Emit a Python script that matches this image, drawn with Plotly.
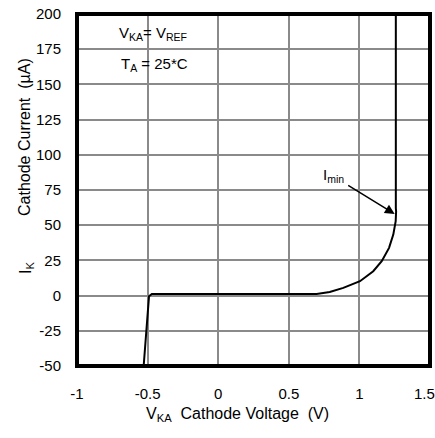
import plotly.graph_objects as go

# Curve data (V_KA in volts, I_K in microamps)
v_ka = [-0.528, -0.49, -0.47, 0.0, 0.5, 0.697, 0.79, 0.886, 1.004, 1.098, 1.158, 1.21, 1.24, 1.257, 1.26, 1.258, 1.258]
i_k = [-50, -0.5, 1.2, 1.2, 1.2, 1.2, 2.6, 5.5, 10.2, 17.3, 24.4, 33.9, 43.3, 52.8, 59.9, 62, 200]

x_ticks = [-1, -0.5, 0, 0.5, 1, 1.5]
x_tick_labels = ["-1", "-0.5", "0", "0.5", "1", "1.5"]
y_ticks = [-50, -25, 0, 25, 50, 75, 100, 125, 150, 175, 200]
y_tick_labels = ["-50", "-25", "0", "25", "50", "75", "100", "125", "150", "175", "200"]

FONT = "Liberation Sans, Arial, sans-serif"
FS = 15
NB = "\u00a0"

L, R, T, B = 77, 5, 14, 72
W, H = 435, 438
pw, ph = W - L - R, H - T - B


def px2paper(px, py):
    return (px - L) / pw, 1 - (py - T) / ph


fig = go.Figure()
fig.add_trace(go.Scatter(x=v_ka, y=i_k, mode="lines",
                         line=dict(color="black", width=2), hoverinfo="skip",
                         showlegend=False))

grid = "#8a8a8a"
tf = dict(family=FONT, size=FS, color="black")
titlef = dict(family=FONT, size=16, color="black")
# last x label is drawn separately (shifted left to stay inside the picture)
fig.update_xaxes(range=[-1, 1.5], tickvals=x_ticks,
                 ticktext=x_tick_labels[:-1] + [""],
                 showgrid=True, gridcolor=grid, gridwidth=2, zeroline=False,
                 ticks="", ticklabelstandoff=17, showline=False, tickfont=tf)
fig.update_yaxes(range=[-50, 200], tickvals=y_ticks, ticktext=y_tick_labels,
                 showgrid=True, gridcolor=grid, gridwidth=2, zeroline=False,
                 ticks="", ticklabelstandoff=15, showline=False, tickfont=tf)

fig.add_shape(type="rect", xref="paper", yref="paper", x0=0, x1=1, y0=0, y1=1,
              line=dict(color="black", width=4), layer="above")

fig.add_annotation(x=-0.46, y=186, xref="x", yref="y", showarrow=False,
                   text="V<sub>KA</sub>= V<sub>REF</sub>", font=tf)
fig.add_annotation(x=-0.45, y=164, xref="x", yref="y", showarrow=False,
                   text="T<sub>A</sub> = 25*C", font=tf)
fig.add_annotation(x=0.82, y=85, xref="x", yref="y", showarrow=False,
                   text="I<sub>min</sub>", font=tf)
fig.add_annotation(x=1.25, y=58, ax=0.91, ay=79, xref="x", yref="y",
                   axref="x", ayref="y", text="", showarrow=True,
                   arrowhead=2, arrowsize=1.3, arrowwidth=1.5, arrowcolor="black")

# last x tick label
x0, y0 = px2paper(424, 393)
fig.add_annotation(x=x0, y=y0, xref="paper", yref="paper", showarrow=False,
                   xanchor="center", yanchor="middle",
                   text=x_tick_labels[-1], font=tf)

# Axis titles
x0, y0 = px2paper(237, 414)
fig.add_annotation(x=x0, y=y0, xref="paper", yref="paper", showarrow=False,
                   xanchor="center", yanchor="middle",
                   text="V<sub>KA</sub>" + NB + NB + "Cathode Voltage" + NB + NB + "(V)", font=titlef)
x0, y0 = px2paper(25, 137)
fig.add_annotation(x=x0, y=y0, xref="paper", yref="paper", showarrow=False,
                   xanchor="center", yanchor="middle", textangle=-90,
                   text="Cathode Current" + NB + NB + "(µA)", font=titlef)
x0, y0 = px2paper(26, 268)
fig.add_annotation(x=x0, y=y0, xref="paper", yref="paper", showarrow=False,
                   xanchor="center", yanchor="middle", textangle=-90,
                   text="I<sub>K</sub>", font=titlef)

fig.update_layout(width=W, height=H, margin=dict(l=L, r=R, t=T, b=B),
                  paper_bgcolor="white", plot_bgcolor="white",
                  font=dict(family=FONT, size=FS, color="black"))

fig.write_html("out.html", config={"displayModeBar": False},
               post_script="document.body.style.margin='0';document.body.style.overflow='hidden';")
